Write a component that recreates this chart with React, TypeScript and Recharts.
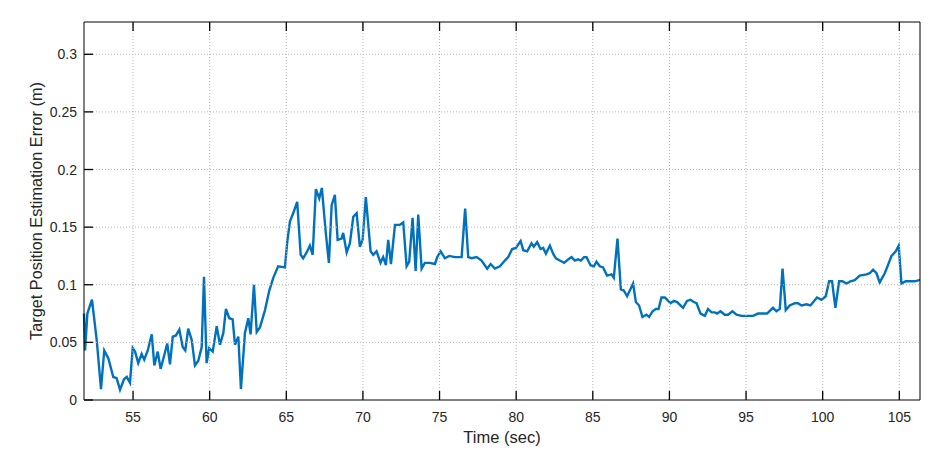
import React from "react";
import { LineChart, Line, XAxis, YAxis } from "recharts";

const times = [
  51.8, 51.87, 52.02, 52.32, 52.63, 52.91, 53.12, 53.39, 53.71, 53.93, 54.15, 54.41, 54.59, 54.8, 54.98,
  55.13, 55.34, 55.56, 55.73, 55.96, 56.22, 56.39, 56.61, 56.8, 57.04, 57.23, 57.41, 57.59, 57.8, 58.02,
  58.24, 58.41, 58.6, 58.83, 59.04, 59.26, 59.48, 59.63, 59.8, 59.97, 60.2, 60.46, 60.67, 60.89, 61.06,
  61.28, 61.5, 61.65, 61.87, 62.04, 62.3, 62.52, 62.67, 62.89, 63.07, 63.28, 63.61, 63.89, 64.15, 64.47,
  64.91, 65.06, 65.24, 65.45, 65.71, 65.94, 66.1, 66.33, 66.54, 66.72, 66.93, 67.15, 67.32, 67.57, 67.78,
  67.96, 68.17, 68.35, 68.61, 68.71, 68.94, 69.15, 69.37, 69.59, 69.8, 69.98, 70.19, 70.35, 70.5, 70.67,
  70.89, 71.15, 71.32, 71.5, 71.65, 71.83, 72.09, 72.41, 72.63, 72.85, 73.02, 73.24, 73.44, 73.61, 73.83,
  74.04, 74.37, 74.7, 74.85, 75.07, 75.35, 75.63, 76.0, 76.44, 76.67, 76.87, 77.09, 77.42, 77.74, 78.11,
  78.33, 78.61, 78.94, 79.26, 79.48, 79.74, 79.98, 80.29, 80.46, 80.72, 81.0, 81.15, 81.37, 81.59, 81.76,
  81.94, 82.2, 82.41, 82.59, 82.85, 83.13, 83.39, 83.61, 83.83, 84.04, 84.22, 84.43, 84.59, 84.85, 85.07,
  85.24, 85.46, 85.67, 85.93, 86.22, 86.37, 86.61, 86.83, 87.02, 87.24, 87.63, 87.81, 88.02, 88.24, 88.5,
  88.67, 88.9, 89.11, 89.29, 89.48, 89.7, 90.07, 90.29, 90.5, 90.89, 91.15, 91.37, 91.59, 91.77, 92.03,
  92.31, 92.52, 92.75, 92.96, 93.11, 93.33, 93.61, 93.83, 94.11, 94.38, 94.7, 95.03, 95.46, 95.78, 96.11,
  96.37, 96.76, 96.98, 97.2, 97.38, 97.59, 97.85, 98.18, 98.39, 98.62, 98.94, 99.2, 99.63, 99.92, 100.2,
  100.42, 100.61, 100.83, 101.07, 101.29, 101.55, 101.81, 102.09, 102.42, 102.86, 103.07, 103.29, 103.51,
  103.72, 104.05, 104.26, 104.49, 104.77, 104.96, 105.14, 105.42, 105.68, 106.01, 106.29, 106.35,
];

const errors = [
  0.075, 0.043, 0.075, 0.087, 0.052, 0.0095, 0.043, 0.036, 0.02, 0.019, 0.009, 0.018, 0.02, 0.015, 0.045,
  0.042, 0.032, 0.04, 0.035, 0.043, 0.057, 0.03, 0.042, 0.027, 0.039, 0.049, 0.031, 0.055, 0.056, 0.061,
  0.046, 0.043, 0.062, 0.052, 0.03, 0.034, 0.046, 0.107, 0.032, 0.045, 0.042, 0.064, 0.048, 0.058, 0.079,
  0.071, 0.07, 0.048, 0.055, 0.0095, 0.058, 0.071, 0.057, 0.1, 0.059, 0.063, 0.078, 0.095, 0.106, 0.116,
  0.115, 0.137, 0.155, 0.162, 0.172, 0.126, 0.123, 0.128, 0.134, 0.126, 0.183, 0.175, 0.184, 0.146, 0.119,
  0.169, 0.178, 0.139, 0.14, 0.145, 0.128, 0.136, 0.159, 0.162, 0.133, 0.139, 0.176, 0.152, 0.129, 0.126,
  0.129, 0.119, 0.124, 0.117, 0.139, 0.118, 0.152, 0.152, 0.154, 0.116, 0.12, 0.158, 0.112, 0.161, 0.114,
  0.119, 0.119, 0.118, 0.124, 0.129, 0.123, 0.125, 0.124, 0.124, 0.166, 0.124, 0.123, 0.124, 0.121, 0.114,
  0.118, 0.114, 0.116, 0.121, 0.124, 0.131, 0.132, 0.138, 0.13, 0.129, 0.136, 0.133, 0.137, 0.131, 0.132,
  0.127, 0.134, 0.127, 0.123, 0.121, 0.119, 0.122, 0.124, 0.121, 0.122, 0.121, 0.124, 0.124, 0.117, 0.116,
  0.12, 0.116, 0.115, 0.108, 0.109, 0.106, 0.14, 0.096, 0.095, 0.09, 0.101, 0.085, 0.082, 0.072, 0.074,
  0.072, 0.077, 0.079, 0.079, 0.089, 0.089, 0.084, 0.086, 0.085, 0.08, 0.086, 0.087, 0.085, 0.084, 0.075,
  0.073, 0.079, 0.076, 0.076, 0.075, 0.077, 0.074, 0.074, 0.077, 0.074, 0.073, 0.073, 0.073, 0.075, 0.075,
  0.075, 0.08, 0.077, 0.079, 0.114, 0.078, 0.082, 0.084, 0.084, 0.082, 0.083, 0.082, 0.089, 0.087, 0.09,
  0.103, 0.103, 0.08, 0.103, 0.103, 0.101, 0.103, 0.104, 0.108, 0.109, 0.11, 0.113, 0.11,
  0.102, 0.11, 0.117, 0.125, 0.129, 0.134, 0.101, 0.103, 0.103, 0.103, 0.104, 0.104,
];

const xTicks = [55, 60, 65, 70, 75, 80, 85, 90, 95, 100, 105];
const yTicks = [0, 0.05, 0.1, 0.15, 0.2, 0.25, 0.3];
const xDomain = [51.8, 106.35];
const yDomain = [0, 0.328];
const xLabel = "Time (sec)";
const yLabel = "Target Position Estimation Error (m)";

const data = times.map((t, i) => ({ t, e: errors[i] }));

const FONT = "'Liberation Sans', Arial, Helvetica, sans-serif";
const TEXT = "#262626";
const AXIS = "#000";
const GRID = "#b4b4b4";
const TL = 9;
const PLOT_W = 836;
const PLOT_H = 378;

const BottomTick = (p: any) => (
  <g>
    <line x1={p.x} y1={p.y} x2={p.x} y2={p.y - PLOT_H} stroke={GRID} strokeWidth={1} strokeDasharray="1 2" />
    <line x1={p.x} y1={p.y} x2={p.x} y2={p.y - TL} stroke={AXIS} strokeWidth={1.3} />
    <text x={p.x} y={p.y + 22} textAnchor="middle" fill={TEXT} fontSize={14} fontFamily={FONT}>
      {String(p.payload.value)}
    </text>
  </g>
);
const TopTick = (p: any) => (
  <line x1={p.x} y1={p.y} x2={p.x} y2={p.y + TL} stroke={AXIS} strokeWidth={1.3} />
);
const LeftTick = (p: any) => (
  <g>
    {p.payload.value !== 0 && (
      <line x1={p.x} y1={p.y} x2={p.x + PLOT_W} y2={p.y} stroke={GRID} strokeWidth={1} strokeDasharray="1 2" />
    )}
    <line x1={p.x} y1={p.y} x2={p.x + TL} y2={p.y} stroke={AXIS} strokeWidth={1.3} />
    <text x={p.x - 7} y={p.y + 5} textAnchor="end" fill={TEXT} fontSize={14} fontFamily={FONT}>
      {String(p.payload.value)}
    </text>
  </g>
);
const RightTick = (p: any) => (
  <line x1={p.x} y1={p.y} x2={p.x - TL} y2={p.y} stroke={AXIS} strokeWidth={1.3} />
);

export default function App() {
  return (
    <div style={{ position: "absolute", left: 0, top: 0 }}>
      <LineChart width={943} height={459} data={data} margin={{ top: 12, right: 0, left: 0, bottom: 0 }}>
        <XAxis
          xAxisId="b"
          dataKey="t"
          type="number"
          domain={xDomain}
          ticks={xTicks}
          height={59}
          tickSize={0}
          tickMargin={0}
          stroke={AXIS}
          tick={BottomTick}
        />
        <XAxis
          xAxisId="t"
          orientation="top"
          dataKey="t"
          type="number"
          domain={xDomain}
          ticks={xTicks}
          height={10}
          tickSize={0}
          tickMargin={0}
          stroke={AXIS}
          tick={TopTick}
        />
        <YAxis
          yAxisId="l"
          type="number"
          domain={yDomain}
          ticks={yTicks}
          width={84}
          tickSize={0}
          tickMargin={0}
          stroke={AXIS}
          tick={LeftTick}
        />
        <YAxis
          yAxisId="r"
          orientation="right"
          type="number"
          domain={yDomain}
          ticks={yTicks}
          width={23}
          tickSize={0}
          tickMargin={0}
          stroke={AXIS}
          tick={RightTick}
        />
        <Line
          xAxisId="b"
          yAxisId="l"
          type="linear"
          dataKey="e"
          stroke="#0072BD"
          strokeWidth={2.4}
          dot={false}
          isAnimationActive={false}
        />
        <text x={502} y={443} textAnchor="middle" fill={TEXT} fontSize={16.5} fontFamily={FONT}>
          {xLabel}
        </text>
        <text
          x={0}
          y={0}
          transform="translate(42, 211) rotate(-90)"
          textAnchor="middle"
          fill={TEXT}
          fontSize={16.3}
          fontFamily={FONT}
        >
          {yLabel}
        </text>
      </LineChart>
    </div>
  );
}
